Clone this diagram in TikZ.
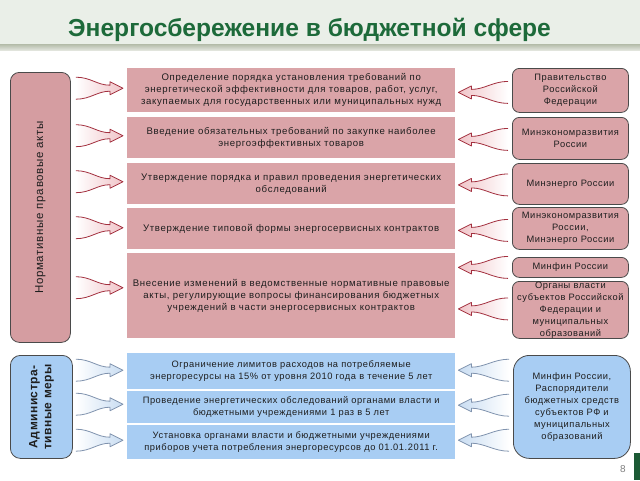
\documentclass[tikz,border=0pt]{standalone}
\usepackage{fontspec}
\setmainfont{Liberation Sans}
\usetikzlibrary{calc}
\definecolor{titlegreen}{HTML}{1D6A3A}
\definecolor{headbg}{HTML}{EAEFE8}
\definecolor{headline}{HTML}{B3BBA8}
\definecolor{pinkfill}{HTML}{DAA4A8}
\definecolor{pinkdark}{HTML}{D59DA1}
\definecolor{bluefill}{HTML}{A8CDF3}
\definecolor{boxborder}{HTML}{4A4A4A}
\definecolor{arrred}{HTML}{A3303F}
\definecolor{arrpink}{HTML}{F0C4C8}
\definecolor{arrblue}{HTML}{8093AE}
\definecolor{arrbluefill}{HTML}{C9DDF2}
\definecolor{txt}{HTML}{1E1E1E}
\definecolor{barGreen}{HTML}{1C5A35}
\newcommand\fatarrow[3]{%
 \path[#3fill] let \p1=#1, \p2=#2, \n1={sign(\x2-\x1)} in
  (\x1,{\y1+11pt}) .. controls ({\x1+15pt*\n1},{\y1+11pt}) and ({\x2-26pt*\n1},{\y1+3pt}) .. ({\x2-13pt*\n1},{\y1+3pt})
  -- ({\x2-13pt*\n1},{\y1+6.5pt}) -- (\x2,\y1) -- ({\x2-13pt*\n1},{\y1-6.5pt}) -- ({\x2-13pt*\n1},{\y1-3pt})
  .. controls ({\x2-26pt*\n1},{\y1-3pt}) and ({\x1+15pt*\n1},{\y1-11pt}) .. (\x1,{\y1-11pt}) -- cycle;
 \path[#3line] let \p1=#1, \p2=#2, \n1={sign(\x2-\x1)} in
  (\x1,{\y1+11pt}) .. controls ({\x1+15pt*\n1},{\y1+11pt}) and ({\x2-26pt*\n1},{\y1+3pt}) .. ({\x2-13pt*\n1},{\y1+3pt})
  -- ({\x2-13pt*\n1},{\y1+6.5pt}) -- (\x2,\y1) -- ({\x2-13pt*\n1},{\y1-6.5pt}) -- ({\x2-13pt*\n1},{\y1-3pt})
  .. controls ({\x2-26pt*\n1},{\y1-3pt}) and ({\x1+15pt*\n1},{\y1-11pt}) .. (\x1,{\y1-11pt});
}
\begin{document}
\begin{tikzpicture}[x=1pt,y=-1pt,
  boxtext/.style={font=\fontsize{9.3}{12}\selectfont\addfontfeature{LetterSpace=6}, text=txt, align=center, inner sep=0pt},
  pinktext/.style={font=\fontsize{9.6}{12}\selectfont\addfontfeature{LetterSpace=7}, text=txt, align=center, inner sep=0pt},
  midpink/.style={pinktext, fill=pinkfill, anchor=north west, minimum width=328pt},
  midblue/.style={boxtext, fill=bluefill, anchor=north west, minimum width=328pt},
  rightpink/.style={boxtext, fill=pinkfill, draw=boxborder, line width=0.8pt, rounded corners=7pt, anchor=north west, minimum width=116pt},
  pinkRfill/.style={left color=white, right color=arrpink},
  pinkRline/.style={draw=arrred, line width=0.8pt, line join=round},
  pinkLfill/.style={left color=arrpink, right color=white},
  pinkLline/.style={draw=arrred, line width=0.8pt, line join=round},
  blueRfill/.style={left color=white, right color=arrbluefill},
  blueRline/.style={draw=arrblue, line width=0.8pt, line join=round},
  blueLfill/.style={left color=arrbluefill, right color=white},
  blueLline/.style={draw=arrblue, line width=0.8pt, line join=round}]
\useasboundingbox (0,0) rectangle (640,480);
\fill[white] (0,0) rectangle (640,480);
\fill[headbg] (0,0) rectangle (640,45);
\shade[top color=headline, bottom color=headline!40!white] (0,44) rectangle (640,50);
\node[anchor=base west, inner sep=0pt, text=titlegreen, font=\fontsize{24.6}{28}\selectfont\bfseries] (title) at (68,36) {Энергосбережение в бюджетной сфере};

% left boxes
\node[fill=pinkdark, draw=boxborder, line width=0.8pt, rounded corners=9pt, anchor=north west, minimum width=60pt, minimum height=270pt, inner sep=0pt] (L1) at (10,72) {};
\node[rotate=90, text=txt, font=\fontsize{11.5}{13}\selectfont\addfontfeature{LetterSpace=6}] at (L1.center) {Нормативные правовые акты};
\node[fill=bluefill, draw=boxborder, line width=0.8pt, rounded corners=10pt, anchor=north west, minimum width=62pt, minimum height=103pt, inner sep=0pt] (L2) at (10,355) {};
\node[rotate=90, text=txt, align=center, font=\fontsize{12}{14}\selectfont\bfseries\addfontfeature{LetterSpace=4}] at (L2.center) {Администра-\\тивные меры};

% middle boxes
\node[midpink, minimum height=44pt] (M1) at (127,68) {Определение порядка установления требований по\\энергетической эффективности для товаров, работ, услуг,\\закупаемых для государственных или муниципальных нужд};
\node[midpink, minimum height=41pt] (M2) at (127,117) {Введение обязательных требований по закупке наиболее\\энергоэффективных товаров};
\node[midpink, minimum height=41pt] (M3) at (127,163) {Утверждение порядка и правил проведения энергетических\\обследований};
\node[midpink, minimum height=41pt] (M4) at (127,208) {Утверждение типовой формы энергосервисных контрактов};
\node[midpink, minimum height=85pt] (M5) at (127,253) {Внесение изменений в ведомственные нормативные правовые\\акты, регулирующие вопросы финансирования бюджетных\\учреждений в части энергосервисных контрактов};
\node[midblue, minimum height=36pt] (B1) at (127,353) {Ограничение лимитов расходов на потребляемые\\энергоресурсы на 15\% от уровня 2010 года в течение 5 лет};
\node[midblue, minimum height=32pt] (B2) at (127,391) {Проведение энергетических обследований органами власти и\\бюджетными учреждениями 1 раз в 5 лет};
\node[midblue, minimum height=34pt] (B3) at (127,425) {Установка органами власти и бюджетными учреждениями\\приборов учета потребления энергоресурсов до 01.01.2011 г.};

% right boxes
\node[rightpink, minimum height=44pt] (R1) at (512,68) {Правительство\\Российской\\Федерации};
\node[rightpink, minimum height=42pt] (R2) at (512,117) {Минэкономразвития\\России};
\node[rightpink, minimum height=41pt] (R3) at (512,163) {Минэнерго России};
\node[rightpink, minimum height=42pt] (R4) at (512,207) {Минэкономразвития\\России,\\Минэнерго России};
\node[rightpink, minimum height=20pt] (R5) at (512,257) {Минфин России};
\node[rightpink, minimum height=57pt] (R6) at (512,281) {Органы власти\\субъектов Российской\\Федерации и\\муниципальных\\образований};
\node[boxtext, fill=bluefill, draw=boxborder, line width=0.8pt, rounded corners=16pt, anchor=north west, minimum width=117pt, minimum height=103pt] (RB) at (513,355) {Минфин России,\\Распорядители\\бюджетных средств\\субъектов РФ и\\муниципальных\\образований};

% left arrows
\fatarrow{($(L1.east |- M1.west)+(5,-2)$)}{($(M1.west)+(-4,-2)$)}{pinkR}
\fatarrow{($(L1.east |- M2.west)+(5,-2)$)}{($(M2.west)+(-4,-2)$)}{pinkR}
\fatarrow{($(L1.east |- M3.west)+(5,-2)$)}{($(M3.west)+(-4,-2)$)}{pinkR}
\fatarrow{($(L1.east |- M4.west)+(5,-1)$)}{($(M4.west)+(-4,-1)$)}{pinkR}
\fatarrow{($(L1.east |- M5.west)+(5,-8)$)}{($(M5.west)+(-4,-8)$)}{pinkR}
% right arrows
\fatarrow{($(R1.west)+(-4,2)$)}{($(M1.east |- R1.west)+(3,2)$)}{pinkL}
\fatarrow{($(R2.west)+(-4,1)$)}{($(M2.east |- R2.west)+(3,1)$)}{pinkL}
\fatarrow{($(R3.west)+(-4,1)$)}{($(M3.east |- R3.west)+(3,1)$)}{pinkL}
\fatarrow{($(R4.west)+(-4,2)$)}{($(M4.east |- R4.west)+(3,2)$)}{pinkL}
\fatarrow{($(R5.west)+(-4,0)$)}{($(M5.east |- R5.west)+(3,0)$)}{pinkL}
\fatarrow{($(R6.west)+(-4,-1)$)}{($(M5.east |- R6.west)+(3,-1)$)}{pinkL}
% blue arrows
\fatarrow{($(L2.east |- B1.west)+(3,-1)$)}{($(B1.west)+(-4,-1)$)}{blueR}
\fatarrow{($(L2.east |- B2.west)+(3,-3)$)}{($(B2.west)+(-4,-3)$)}{blueR}
\fatarrow{($(L2.east |- B3.west)+(3,-2)$)}{($(B3.west)+(-4,-2)$)}{blueR}
\fatarrow{($(RB.west |- B1.east)+(-4,-1)$)}{($(B1.east)+(3,-1)$)}{blueL}
\fatarrow{($(RB.west |- B2.east)+(-4,-2)$)}{($(B2.east)+(3,-2)$)}{blueL}
\fatarrow{($(RB.west |- B3.east)+(-4,-2)$)}{($(B3.east)+(3,-2)$)}{blueL}

% page number and bar
\node[text=gray, font=\fontsize{10}{12}\selectfont, inner sep=0pt] (pnum) at (623,469) {8};
\fill[barGreen] (634,453) rectangle (640,480);
\end{tikzpicture}
\end{document}
